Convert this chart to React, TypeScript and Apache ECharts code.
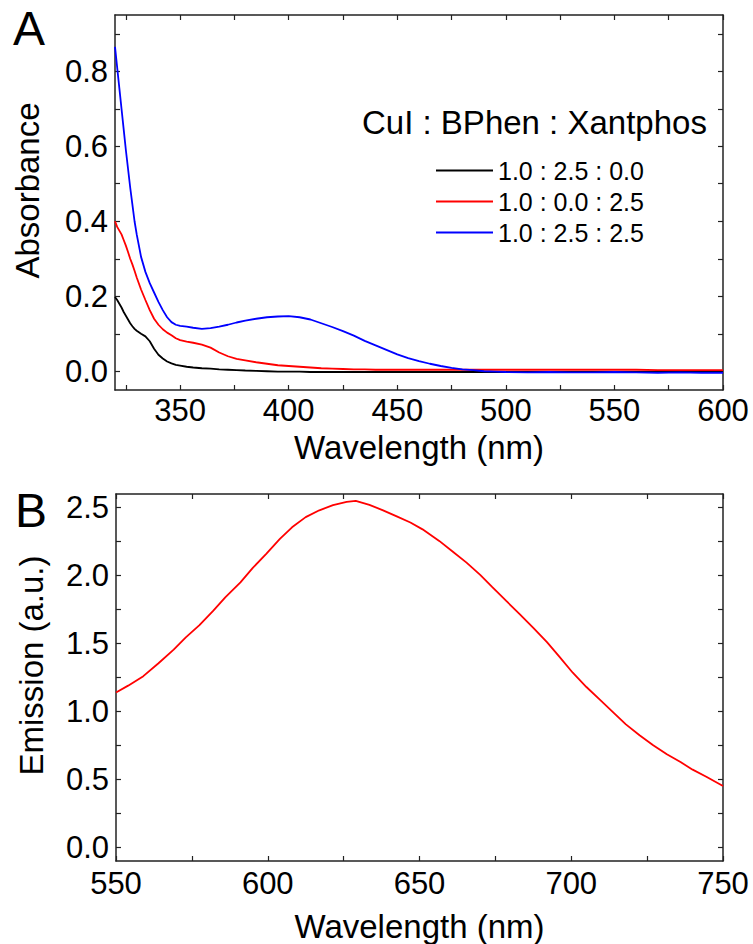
import React, { useEffect, useRef } from "react";
import * as echarts from "echarts";

// Panel A: absorbance spectra
const absWavelength = [
  320, 321, 322, 323, 324, 325, 326, 327, 328, 329, 330, 332, 334, 336, 338, 340, 342, 344, 346, 348, 350,
  353, 356, 360, 364, 368, 372, 376, 380, 385, 390, 395, 400, 405, 410, 415, 420, 425, 430, 435, 440, 445,
  450, 455, 460, 465, 470, 475, 480, 485, 490, 495, 500, 510, 520, 530, 540, 550, 560, 570, 580, 590, 600,
];
const absBlack = [
  0.198, 0.19, 0.18, 0.17, 0.158, 0.148, 0.138, 0.128, 0.12, 0.113, 0.108, 0.1, 0.093, 0.08, 0.06, 0.044, 0.034,
  0.026, 0.021, 0.017, 0.015, 0.012, 0.01, 0.008, 0.007, 0.005, 0.004, 0.003, 0.002, 0.001, 0.0, -0.001, -0.001,
  -0.001, -0.002, -0.002, -0.002, -0.002, -0.002, -0.002, -0.002, -0.002, -0.002, -0.002, -0.002, -0.002, -0.002,
  -0.002, -0.002, -0.002, -0.002, -0.002, -0.002, -0.002, -0.002, -0.002, -0.002, -0.002, -0.002, -0.002, -0.002,
  -0.002, -0.002,
];
const absRed = [
  0.4, 0.385, 0.375, 0.365, 0.35, 0.335, 0.318, 0.3, 0.285, 0.268, 0.25, 0.218, 0.19, 0.163, 0.14, 0.124, 0.112,
  0.103, 0.096, 0.088, 0.083, 0.079, 0.076, 0.071, 0.063, 0.05, 0.04, 0.033, 0.029, 0.024, 0.02, 0.016, 0.014,
  0.012, 0.01, 0.008, 0.007, 0.006, 0.005, 0.005, 0.004, 0.004, 0.004, 0.004, 0.004, 0.004, 0.004, 0.004, 0.004,
  0.004, 0.004, 0.004, 0.004, 0.004, 0.004, 0.004, 0.004, 0.004, 0.004, 0.003, 0.003, 0.003, 0.003,
];
const absBlue = [
  0.865, 0.81, 0.755, 0.7, 0.645, 0.59, 0.54, 0.49, 0.445, 0.4, 0.365, 0.305, 0.265, 0.235, 0.21, 0.185, 0.163,
  0.144, 0.131, 0.124, 0.121, 0.119, 0.116, 0.113, 0.115, 0.119, 0.124, 0.13, 0.135, 0.14, 0.144, 0.146, 0.147,
  0.144, 0.138, 0.128, 0.118, 0.107, 0.095, 0.081, 0.069, 0.057, 0.045, 0.035, 0.027, 0.02, 0.014, 0.009, 0.005,
  0.003, 0.0, -0.001, -0.002, -0.003, -0.002, -0.003, -0.003, -0.002, -0.003, -0.004, -0.003, -0.004, -0.004,
];
const absSeriesNames = ["1.0 : 2.5 : 0.0", "1.0 : 0.0 : 2.5", "1.0 : 2.5 : 2.5"];
const legendTitle = "CuI : BPhen : Xantphos";
const absXLabels = [350, 400, 450, 500, 550, 600];
const absXTicks = [325, 350, 375, 400, 425, 450, 475, 500, 525, 550, 575, 600];
const absYLabels = [0, 0.2, 0.4, 0.6, 0.8];
const absYTicks = [0, 0.1, 0.2, 0.3, 0.4, 0.5, 0.6, 0.7, 0.8, 0.9];

// Panel B: emission spectrum
const emWavelength = [
  550, 554, 559, 564, 569, 573, 577.5, 582, 586, 591, 595, 599.5, 604, 608, 612.5, 617, 621.5, 626, 629, 633.5,
  638, 642.5, 647, 651, 656.5, 661, 665.5, 670, 674, 678.5, 683, 687.5, 692, 696, 700.5, 705, 709.5, 714, 718,
  722.5, 727, 731.5, 736, 740, 744.5, 750,
];
const emValue = [
  1.14, 1.19, 1.26, 1.355, 1.455, 1.545, 1.635, 1.74, 1.84, 1.95, 2.055, 2.16, 2.27, 2.355, 2.43, 2.48, 2.518,
  2.542, 2.55, 2.52, 2.48, 2.435, 2.39, 2.34, 2.255, 2.175, 2.095, 2.005, 1.915, 1.815, 1.717, 1.615, 1.51, 1.405,
  1.285, 1.18, 1.085, 0.99, 0.905, 0.825, 0.752, 0.685, 0.628, 0.572, 0.52, 0.452,
];
const emXLabels = [550, 600, 650, 700, 750];
const emXTicks = [550, 575, 600, 625, 650, 675, 700, 725, 750];
const emYLabels = [0, 0.5, 1, 1.5, 2, 2.5];
const emYTicks = [0, 0.25, 0.5, 0.75, 1, 1.25, 1.5, 1.75, 2, 2.25, 2.5];

const FONT = "'Liberation Sans', Arial, sans-serif";
const AXIS_COLOR = "#222";

export default function App() {
  const ref = useRef<HTMLDivElement>(null);

  useEffect(() => {
    if (!ref.current) return;
    const chart = echarts.init(ref.current, undefined, { renderer: "svg" });

    const lineStyle = { color: AXIS_COLOR, width: 1.5 };
    const tick = (values: number[]) => ({
      show: true,
      inside: true,
      length: 5,
      lineStyle: { color: AXIS_COLOR, width: 1.2 },
      customValues: values,
    });
    const xAxisBottom = (gridIndex: number, min: number, max: number, labels: number[], ticks: number[], gap: number, margin: number) => ({
      type: "value",
      gridIndex,
      position: "bottom",
      min,
      max,
      axisLine: { show: true, onZero: false, lineStyle },
      axisTick: tick(ticks),
      axisLabel: {
        customValues: labels,
        fontSize: 31,
        fontFamily: FONT,
        color: "#000",
        margin,
        formatter: (v: number) => String(Math.round(v)),
      },
      splitLine: { show: false },
      name: "Wavelength (nm)",
      nameLocation: "middle",
      nameGap: gap,
      nameTextStyle: { fontSize: 33, fontFamily: FONT, color: "#000" },
    });
    const xAxisTop = (gridIndex: number, min: number, max: number, ticks: number[]) => ({
      type: "value",
      gridIndex,
      position: "top",
      min,
      max,
      axisLine: { show: true, onZero: false, lineStyle },
      axisTick: tick(ticks),
      axisLabel: { show: false },
      splitLine: { show: false },
    });
    const yAxisLeft = (gridIndex: number, min: number, max: number, labels: number[], ticks: number[], name: string, gap: number) => ({
      type: "value",
      gridIndex,
      position: "left",
      min,
      max,
      axisLine: { show: true, onZero: false, lineStyle },
      axisTick: tick(ticks),
      axisLabel: {
        customValues: labels,
        fontSize: 31,
        fontFamily: FONT,
        color: "#000",
        margin: 7,
        formatter: (v: number) => v.toFixed(1),
      },
      splitLine: { show: false },
      name,
      nameLocation: "middle",
      nameGap: gap,
      nameTextStyle: { fontSize: 33, fontFamily: FONT, color: "#000", padding: [0, 0, 0, 24] },
    });
    const yAxisRight = (gridIndex: number, min: number, max: number, ticks: number[]) => ({
      type: "value",
      gridIndex,
      position: "right",
      min,
      max,
      axisLine: { show: true, onZero: false, lineStyle },
      axisTick: tick(ticks),
      axisLabel: { show: false },
      splitLine: { show: false },
    });

    const zip = (xs: number[], ys: number[]) => xs.map((x, i) => [x, ys[i]]);
    const absColors = ["#000000", "#ff0000", "#0000ff"];
    const absData = [absBlack, absRed, absBlue];

    chart.setOption({
      animation: false,
      backgroundColor: "#fff",
      grid: [
        { left: 115, right: 30, top: 15, height: 375 },
        { left: 116, right: 30, top: 494, height: 375 },
      ],
      xAxis: [
        xAxisBottom(0, 320, 600, absXLabels, absXTicks, 41, 5),
        xAxisTop(0, 320, 600, absXTicks),
        xAxisBottom(1, 550, 750, emXLabels, emXTicks, 49, 7),
        xAxisTop(1, 550, 750, emXTicks),
      ],
      yAxis: [
        yAxisLeft(0, -0.05, 0.95, absYLabels, absYTicks, "Absorbance", 71),
        yAxisRight(0, -0.05, 0.95, absYTicks),
        yAxisLeft(1, -0.1, 2.6, emYLabels, emYTicks, "Emission (a.u.)", 68),
        yAxisRight(1, -0.1, 2.6, emYTicks),
      ],
      legend: {
        data: absSeriesNames,
        orient: "vertical",
        left: 431,
        top: 153,
        icon: "rect",
        itemWidth: 57,
        itemHeight: 2,
        itemGap: 6,
        textStyle: { fontSize: 25, fontFamily: FONT, color: "#000", lineHeight: 25 },
      },
      graphic: [
        {
          type: "text",
          left: 362,
          top: 106,
          style: { text: legendTitle, fontSize: 33, fontFamily: FONT, fill: "#000" },
        },
        {
          type: "text",
          left: 13,
          top: 4,
          style: { text: "A", fontSize: 48, fontFamily: FONT, fill: "#000" },
        },
        {
          type: "text",
          left: 15,
          top: 486,
          style: { text: "B", fontSize: 48, fontFamily: FONT, fill: "#000" },
        },
      ],
      series: [
        ...absSeriesNames.map((name, i) => ({
          name,
          type: "line",
          xAxisIndex: 0,
          yAxisIndex: 0,
          data: zip(absWavelength, absData[i]),
          showSymbol: false,
          lineStyle: { color: absColors[i], width: 1.8 },
          itemStyle: { color: absColors[i] },
        })),
        {
          name: "Emission",
          type: "line",
          xAxisIndex: 2,
          yAxisIndex: 2,
          data: zip(emWavelength, emValue),
          showSymbol: false,
          lineStyle: { color: "#ff0000", width: 1.8 },
          itemStyle: { color: "#ff0000" },
        },
      ],
    });

    return () => chart.dispose();
  }, []);

  return <div ref={ref} style={{ width: 753, height: 944, position: "absolute", left: 0, top: 0 }} />;
}
